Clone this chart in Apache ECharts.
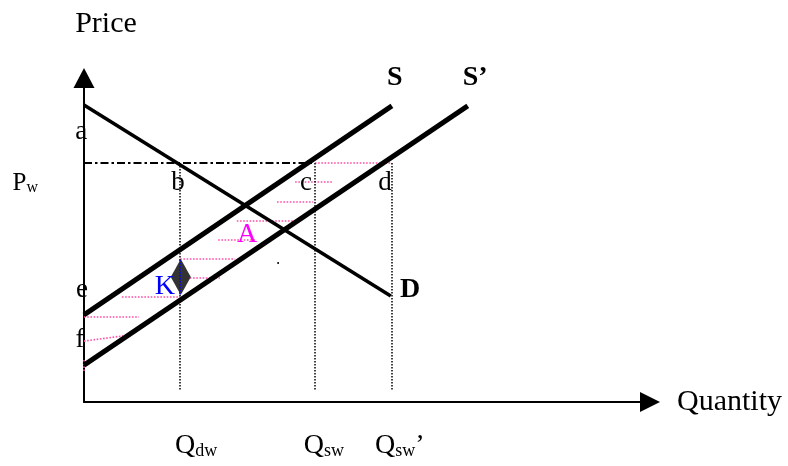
<!DOCTYPE html>
<html>
<head>
<meta charset="utf-8">
<script src="https://cdn.jsdelivr.net/npm/echarts@6/dist/echarts.min.js"></script>
<style>
html, body { margin: 0; padding: 0; background: #fff; }
#main { width: 788px; height: 466px; }
</style>
</head>
<body>
<div id="main"></div>
<script>
// curves as [quantity, price]
var demand = [[0, 91.7], [54.2, 32.7]];
var supply = [[0, 26.9], [54.4, 91.4]];
var supplyShift = [[0, 11.4], [67.8, 91.4]];
var worldPrice = 73.8;

// quantities read at the world price (Qdw, Qsw, Qsw')
var qMarks = [17, 40.8, 54.4];
var qLabelAt = [19.8, 42.4, 55.8];
var qLabels = ['Q{sub|dw}', 'Q{sub|sw}', 'Q{sub|sw}’'];
var pLabelAt = [67.6];

// pink dotted shading between S and S'
var shade = [
    [[37.3, 67.9], [43.8, 67.9]],
    [[40.8, 73.8], [54.4, 73.8]],
    [[34.1, 61.7], [40.5, 61.7]],
    [[27.0, 55.9], [36.9, 55.9]],
    [[23.7, 50.0], [30.5, 50.0]],
    [[17.0, 44.1], [26.7, 44.1]],
    [[18.7, 38.3], [24.0, 38.3]],
    [[6.7, 32.4], [17.0, 32.4]],
    [[0, 26.2], [9.7, 26.2]],
    [[0, 18.8], [6.9, 20.4]],
    [[0, 13.0], [0, 9.3]]
];

// point letters
var letters = ['a', 'b', 'c', 'd', 'e', 'f'];
var letterAt = [[-0.5, 83.3], [16.6, 67.6], [39.2, 67.6], [53.2, 67.6], [-0.35, 34.6], [-0.7, 19.1]];
var curveNames = ['S', 'S’', 'D'];
var curveNameAt = [[54.9, 100], [69.1, 100], [57.6, 34.6]];
var areaNames = ['A', 'K'];
var areaNameAt = [[28.8, 51.5], [14.3, 35.5]];
var areaColors = ['#ff00ff', '#0000ff'];

// subsidy marker
var gap = [[17.1, 38.6]];
var gapLine = [[17, 43.8], [17, 33.0]];
var stray = [[34.3, 42.9]];

var serif = '"Liberation Serif", "Times New Roman", serif';
var chart = echarts.init(document.getElementById('main'));

var labelData = [];
letters.forEach(function (t, i) {
    labelData.push({ value: [letterAt[i][0], letterAt[i][1], t],
        label: { fontSize: 27, color: '#000' } });
});
curveNames.forEach(function (t, i) {
    labelData.push({ value: [curveNameAt[i][0], curveNameAt[i][1], t],
        label: { fontSize: 28, fontWeight: 'bold', color: '#000' } });
});
areaNames.forEach(function (t, i) {
    labelData.push({ value: [areaNameAt[i][0], areaNameAt[i][1], t],
        label: { fontSize: 28, color: areaColors[i] } });
});

var subRich = {
    main: { fontFamily: serif, fontSize: 28, color: '#000', verticalAlign: 'bottom', lineHeight: 28 },
    sub: { fontFamily: serif, fontSize: 18, color: '#000', verticalAlign: 'bottom', lineHeight: 16 }
};

chart.setOption({
    animation: false,
    grid: { left: 84, right: 138, top: 78, bottom: 64, outerBoundsMode: 'none' },
    xAxis: {
        type: 'value', min: 0, max: 100,
        axisLine: { show: true, symbol: ['none', 'triangle'], symbolSize: [20, 20],
            lineStyle: { color: '#000', width: 2 } },
        axisTick: { show: false },
        splitLine: { show: false },
        axisLabel: {
            customValues: qLabelAt, margin: 30,
            formatter: function (v) {
                var i = qLabelAt.indexOf(v);
                return i < 0 ? '' : '{main|' + qLabels[i].replace(/\{sub\|(\w+)\}/, '}{sub|$1}{main|') + '}';
            },
            rich: subRich
        },
        name: 'Quantity', nameLocation: 'end', nameGap: 27,
        nameTextStyle: { fontFamily: serif, fontSize: 30, color: '#000', padding: [0, 0, 14, 0] }
    },
    yAxis: {
        type: 'value', min: 0, max: 100,
        axisLine: { show: true, symbol: ['none', 'triangle'], symbolSize: [21, 20],
            lineStyle: { color: '#000', width: 2 } },
        axisTick: { show: false },
        splitLine: { show: false },
        axisLabel: {
            customValues: pLabelAt, margin: 46,
            formatter: function (v) {
                var i = pLabelAt.indexOf(v);
                return i < 0 ? '' : '{p|P}{w|w}';
            },
            rich: {
                p: { fontFamily: serif, fontSize: 25, color: '#000', verticalAlign: 'bottom', lineHeight: 25 },
                w: { fontFamily: serif, fontSize: 16, color: '#000', verticalAlign: 'bottom', lineHeight: 9 }
            }
        },
        name: 'Price', nameLocation: 'end', nameGap: 54,
        nameTextStyle: { fontFamily: serif, fontSize: 30, color: '#000', align: 'center',
            verticalAlign: 'middle', padding: [0, 0, 0, 44] }
    },
    series: [
        {
            type: 'lines', coordinateSystem: 'cartesian2d', silent: true, z: 2,
            lineStyle: { color: '#ff4fa8', width: 1.6, type: [1.6, 1.6], opacity: 1 },
            data: shade.map(function (s) { return { coords: s }; })
        },
        {
            type: 'lines', coordinateSystem: 'cartesian2d', silent: true, z: 3,
            lineStyle: { color: '#000', width: 1.8, type: [8, 3, 2.5, 3], opacity: 1 },
            data: [{ coords: [[0, worldPrice], [qMarks[1], worldPrice]] }]
        },
        {
            type: 'lines', coordinateSystem: 'cartesian2d', silent: true, z: 3,
            lineStyle: { color: '#000', width: 1.5, type: [1.5, 1.5], opacity: 1 },
            data: qMarks.map(function (q) { return { coords: [[q, worldPrice], [q, 3.7]] }; })
        },
        { type: 'line', data: demand, showSymbol: false, silent: true, z: 4,
            lineStyle: { color: '#000', width: 3.5 } },
        { type: 'line', data: supply, showSymbol: false, silent: true, z: 4,
            lineStyle: { color: '#000', width: 5 } },
        { type: 'line', data: supplyShift, showSymbol: false, silent: true, z: 4,
            lineStyle: { color: '#000', width: 5 } },
        { type: 'scatter', data: gap, symbol: 'diamond', symbolSize: [20, 36], silent: true, z: 5,
            itemStyle: { color: '#333', opacity: 1 } },
        {
            type: 'lines', coordinateSystem: 'cartesian2d', silent: true, z: 6,
            lineStyle: { color: '#0000ff', width: 1.5, type: [1.5, 1.5], opacity: 1 },
            data: [{ coords: gapLine }]
        },
        { type: 'scatter', data: stray, symbolSize: 2, silent: true, z: 5,
            itemStyle: { color: '#000', opacity: 1 } },
        {
            type: 'scatter', data: labelData, symbolSize: 0, clip: false, silent: true, z: 7,
            itemStyle: { opacity: 1 },
            label: { show: true, position: 'inside', fontFamily: serif,
                formatter: function (p) { return p.value[2]; } }
        }
    ]
});
</script>
</body>
</html>
